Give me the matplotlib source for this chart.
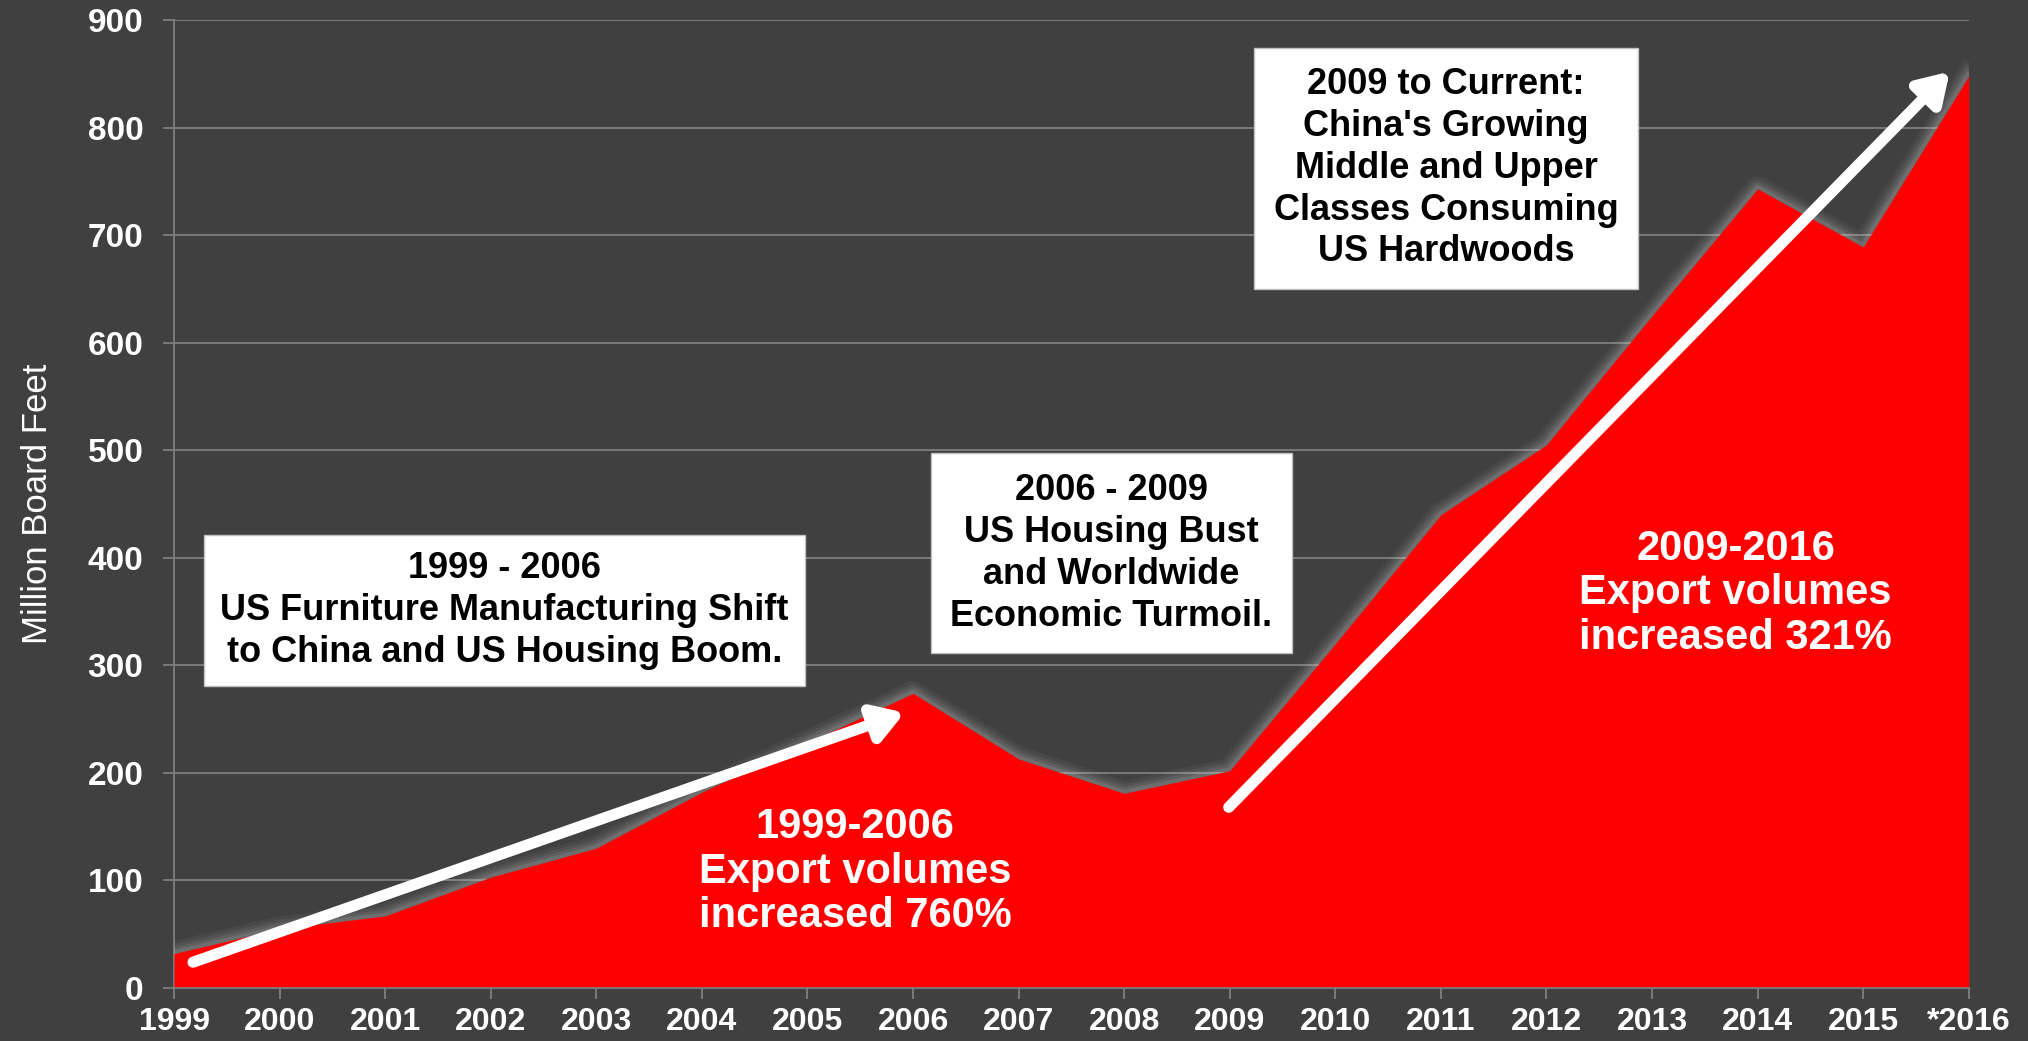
import matplotlib.pyplot as plt

# Export volumes, million board feet
years = [1999, 2000, 2001, 2002, 2003, 2004, 2005, 2006, 2007, 2008,
         2009, 2010, 2011, 2012, 2013, 2014, 2015, 2016]
volumes = [32, 55, 67, 103, 130, 182, 228, 274, 213, 181,
           202, 320, 440, 505, 625, 743, 689, 848]
year_labels = [str(y) for y in years[:-1]] + ['*2016']
y_ticks = [0, 100, 200, 300, 400, 500, 600, 700, 800, 900]

bg = '#404040'
grid_col = '#7f7f7f'

plt.rcParams['font.family'] = ['Liberation Sans', 'DejaVu Sans']

fig = plt.figure(figsize=(20.28, 10.41), dpi=100, facecolor=bg)
ax = fig.add_axes([0.0858, 0.0509, 0.885, 0.9299])
ax.set_facecolor(bg)

# soft glow along the top edge
for lw, a in [(18, 0.06), (13, 0.08), (9, 0.10), (5, 0.14)]:
    ax.plot(years, volumes, color='#d0d0d0', lw=lw, alpha=a,
            solid_joinstyle='round', zorder=1)
ax.fill_between(years, 0, volumes, color='#ff0000', lw=0, zorder=2)

ax.set_xlim(1999, 2016)
ax.set_ylim(0, 900)
ax.set_yticks(y_ticks)
ax.set_xticks(years)
ax.set_xticklabels(year_labels)
ax.yaxis.grid(True, color=grid_col, lw=1.3, zorder=0)
ax.set_axisbelow(True)
for s in ['top', 'right']:
    ax.spines[s].set_visible(False)
for s in ['left', 'bottom']:
    ax.spines[s].set_color(grid_col)
    ax.spines[s].set_linewidth(1.3)
ax.spines['left'].set_zorder(0)
ax.tick_params(axis='both', colors=grid_col, length=8, width=1.3)
ax.tick_params(axis='y', labelcolor='white', labelsize=24, pad=14)
ax.tick_params(axis='x', labelcolor='white', labelsize=21, pad=6)
for t in ax.get_yticklabels():
    t.set_fontweight('bold')
for t in ax.get_xticklabels():
    t.set_fontweight('bold')
    t.set_family(['Liberation Sans Narrow', 'Liberation Sans'])
    t.set_fontsize(23)

ax.set_ylabel('Million Board Feet', color='white', fontsize=25, labelpad=24)

# arrows
arrow_kw = dict(arrowstyle='-|>,head_length=0.8,head_width=0.5',
                color='white', lw=8, mutation_scale=22,
                shrinkA=0, shrinkB=0)
ax.annotate('', xy=(2005.92, 256), xytext=(1999.18, 24),
            arrowprops=arrow_kw, zorder=5)
ax.annotate('', xy=(2015.82, 852), xytext=(2008.99, 168),
            arrowprops=arrow_kw, zorder=5)

# boxes
box_font = 26
ax.text(2002.13, 351,
        '1999 - 2006\nUS Furniture Manufacturing Shift\nto China and US Housing Boom.',
        ha='center', va='center', fontsize=box_font, fontweight='bold',
        color='black', linespacing=1.25,
        bbox=dict(boxstyle='square,pad=0.45', fc='white', ec='#c0c0c0', lw=1),
        zorder=6)
ax.text(2007.88, 404,
        '2006 - 2009\nUS Housing Bust\nand Worldwide\nEconomic Turmoil.',
        ha='center', va='center', fontsize=box_font, fontweight='bold',
        color='black', linespacing=1.25,
        bbox=dict(boxstyle='square,pad=0.55', fc='white', ec='#c0c0c0', lw=1),
        zorder=6)
ax.text(2011.05, 762,
        "2009 to Current:\nChina's Growing\nMiddle and Upper\nClasses Consuming\nUS Hardwoods",
        ha='center', va='center', fontsize=box_font, fontweight='bold',
        color='black', linespacing=1.25,
        bbox=dict(boxstyle='square,pad=0.55', fc='white', ec='#c0c0c0', lw=1),
        zorder=6)

# red-area captions
ax.text(2005.45, 108, '1999-2006\nExport volumes\nincreased 760%',
        ha='center', va='center', fontsize=30, fontweight='bold',
        color='white', linespacing=1.15, zorder=6)
ax.text(2013.79, 367, '2009-2016\nExport volumes\nincreased 321%',
        ha='center', va='center', fontsize=30, fontweight='bold',
        color='white', linespacing=1.15, zorder=6)

fig.savefig('out.png', dpi=100, facecolor=bg)
